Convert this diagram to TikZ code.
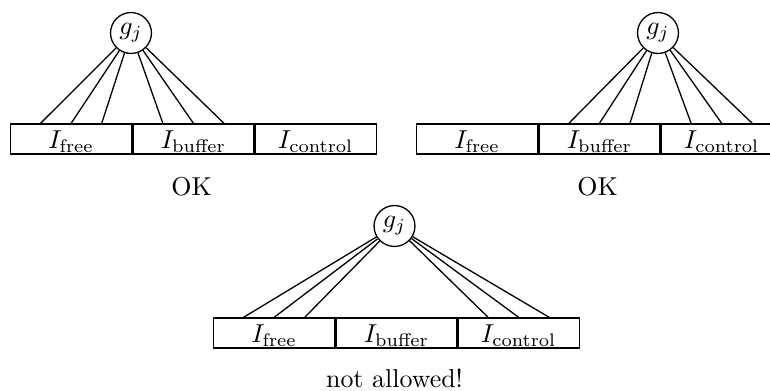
\documentclass[tikz,border=0pt]{standalone}
\usetikzlibrary{calc}
\begin{document}
\begin{tikzpicture}[x=0.386pt,y=-0.386pt,
  sec/.style={draw,line width=0.5pt,minimum width=46.7pt,minimum height=11.6pt,inner sep=0pt,text height=7.5pt,text depth=0pt,anchor=west},
  gnode/.style={draw,circle,line width=0.5pt,minimum size=15.8pt,inner sep=0pt},
  edge/.style={line width=0.5pt},
  caption/.style={inner sep=0pt}]
\useasboundingbox (0,0) rectangle (770,390);
% diagram 1
\node[sec] (a1) at (10,139) {$I_{\mathrm{free}}$};
\node[sec] (b1) at (a1.east) {$I_{\mathrm{buffer}}$};
\node[sec] (c1) at (b1.east) {$I_{\mathrm{control}}$};
\node[gnode] (g1) at (131,33) {$g_j$};
\foreach \t in {0.25,0.5,0.75} {
  \draw[edge] (g1) -- ($(a1.north west)!\t!(a1.north east)$);
  \draw[edge] (g1) -- ($(b1.north west)!\t!(b1.north east)$);
}
\node[caption] (ok1) at (191.5,187) {OK};
% diagram 2
\node[sec] (a2) at (416,139) {$I_{\mathrm{free}}$};
\node[sec] (b2) at (a2.east) {$I_{\mathrm{buffer}}$};
\node[sec] (c2) at (b2.east) {$I_{\mathrm{control}}$};
\node[gnode] (g2) at (658,33) {$g_j$};
\foreach \t in {0.25,0.5,0.75} {
  \draw[edge] (g2) -- ($(b2.north west)!\t!(b2.north east)$);
  \draw[edge] (g2) -- ($(c2.north west)!\t!(c2.north east)$);
}
\node[caption] (ok2) at (597.5,187) {OK};
% diagram 3
\node[sec] (a3) at (213,333) {$I_{\mathrm{free}}$};
\node[sec] (b3) at (a3.east) {$I_{\mathrm{buffer}}$};
\node[sec] (c3) at (b3.east) {$I_{\mathrm{control}}$};
\node[gnode] (g3) at (394.5,226) {$g_j$};
\foreach \t in {0.25,0.5,0.75} {
  \draw[edge] (g3) -- ($(a3.north west)!\t!(a3.north east)$);
  \draw[edge] (g3) -- ($(c3.north west)!\t!(c3.north east)$);
}
\node[caption] (na) at (394.5,378.5) {not allowed!};
\end{tikzpicture}
\end{document}
